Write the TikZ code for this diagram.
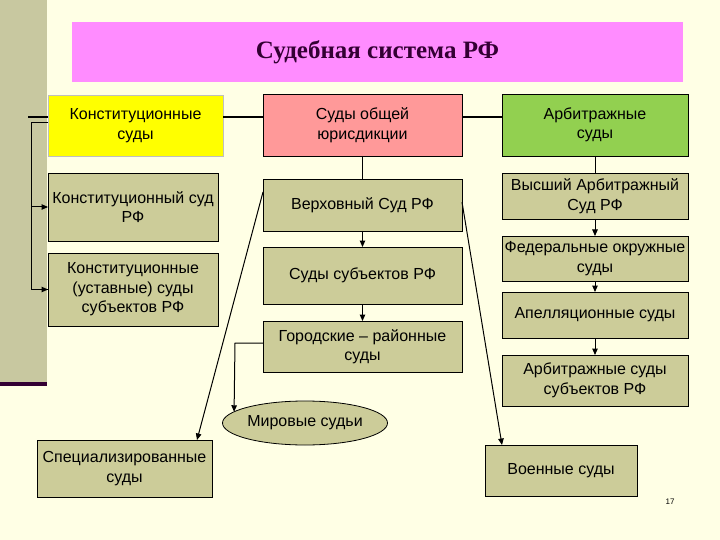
\documentclass[tikz,border=0pt]{standalone}
\usepackage{xcolor}
\usepackage{fontspec}
\setmainfont{Liberation Sans}
\newfontfamily\titlefont{Liberation Serif}
\usetikzlibrary{arrows.meta,shapes.geometric}

\definecolor{fon}{HTML}{FFFFE5}
\definecolor{polosa}{HTML}{C8C8A0}
\definecolor{temnyj}{HTML}{330033}
\definecolor{haki}{HTML}{CCCC99}
\definecolor{rozovyj}{HTML}{FF8CFF}
\definecolor{lososevyj}{HTML}{FF9999}
\definecolor{zelenyj}{HTML}{92D050}
\definecolor{zheltyj}{HTML}{FFFF00}

\begin{document}
\begin{tikzpicture}[x=1pt,y=-1pt,
	sud/.style={draw=black,fill=haki,align=center,inner sep=0pt,outer sep=0pt,
		line width=0.8pt,font=\fontsize{16}{19.5}\selectfont},
	vetka/.style={draw=black,line width=1pt},
	strelka/.style={vetka,-{Triangle[length=6.5pt,width=5.5pt]}}
	]
	% background and left strip
	\useasboundingbox (0,0) rectangle (720,540);
	\fill[fon] (0,0) rectangle (720,540);
	\fill[polosa] (0,0) rectangle (47,382);
	\fill[temnyj] (0,382) rectangle (47,386);
	
	\node[fill=rozovyj,minimum width=611,minimum height=60,inner sep=0pt,
		text=temnyj,font=\titlefont\bfseries\fontsize{25}{29}\selectfont]
		(titul) at (377.5,52) {Судебная система РФ};
	
	% three branches
	\node[sud,fill=zheltyj,draw=gray!50,minimum width=175,minimum height=61]
		(konst) at (135.5,125.5) {Конституционные\\суды};
	\node[sud,fill=lososevyj,minimum width=199,minimum height=62]
		(obsh) at (362.5,125) {Суды общей\\юрисдикции};
	\node[sud,fill=zelenyj,minimum width=186,minimum height=62]
		(arb) at (595,125) {Арбитражные\\суды};
	
	% constitutional courts
	\node[sud,minimum width=170,minimum height=68] (ksrf) at (133,207) {Конституционный суд\\РФ};
	\node[sud,minimum width=170,minimum height=73] (kus) at (133,289.5) {Конституционные\\(уставные) суды\\субъектов РФ};
	
	% general jurisdiction
	\node[sud,minimum width=199,minimum height=52] (verh) at (362.5,205) {Верховный Суд РФ};
	\node[sud,minimum width=199,minimum height=57] (subj) at (362.5,275.5) {Суды субъектов РФ};
	\node[sud,minimum width=199,minimum height=51] (gor) at (362.5,346.5) {Городские – районные\\суды};
	\node[sud,ellipse,minimum width=165,minimum height=44] (mir) at (305,423) {Мировые судьи};
	\node[sud,minimum width=175,minimum height=57] (spec) at (124.5,468.5) {Специализированные\\суды};
	\node[sud,minimum width=152,minimum height=51] (voen) at (561,470.5) {Военные суды};
	
	% arbitration
	\node[sud,minimum width=186,minimum height=46] (vas) at (595,196) {Высший Арбитражный\\Суд РФ};
	\node[sud,minimum width=186,minimum height=45] (fed) at (595,258.5) {Федеральные окружные\\суды};
	\node[sud,minimum width=186,minimum height=46] (apel) at (595,315) {Апелляционные суды};
	\node[sud,minimum width=186,minimum height=51] (asub) at (595,380.5) {Арбитражные суды\\субъектов РФ};
	
	\node[font=\fontsize{8}{10}\selectfont] (nomer) at (670,502) {17};
	
	% connectors
	\coordinate (kraj) at (28,117);
	\coordinate (shina) at (31,123);
	\coordinate (mpovorot) at (235,343);
	\draw[vetka,line width=1.6pt] (kraj) -- ([yshift=8.5pt]konst.west);
	\draw[vetka,line width=1.6pt] ([yshift=8.5pt]konst.east) -- ([yshift=8pt]obsh.west);
	\draw[vetka,line width=1.6pt] ([yshift=8pt]obsh.east) -- ([yshift=8pt]arb.west);
	
	\draw[vetka] ([yshift=2.5pt]konst.west) -- (shina) |- (kus.west);
	\draw[strelka] (shina |- ksrf.west) -- (ksrf.west);
	\draw[strelka] (shina |- kus.west) -- (kus.west);
	
	\draw[vetka] (obsh.south) -- (verh.north);
	\draw[strelka] (verh.south) -- (subj.north);
	\draw[strelka] (subj.south) -- (gor.north);
	\draw[strelka] ([yshift=3.5pt]gor.west) -- (mpovorot) -- (mir.171);
	\draw[strelka] ([yshift=13pt]verh.west) -- ([xshift=-15pt]spec.north east);
	\draw[strelka] ([yshift=3pt]verh.east) -- ([xshift=17pt]voen.north west);
	
	\draw[vetka] (arb.south) -- (vas.north);
	\draw[strelka] (vas.south) -- (fed.north);
	\draw[strelka] (fed.south) -- (apel.north);
	\draw[strelka] (apel.south) -- (asub.north);
\end{tikzpicture}
\end{document}
